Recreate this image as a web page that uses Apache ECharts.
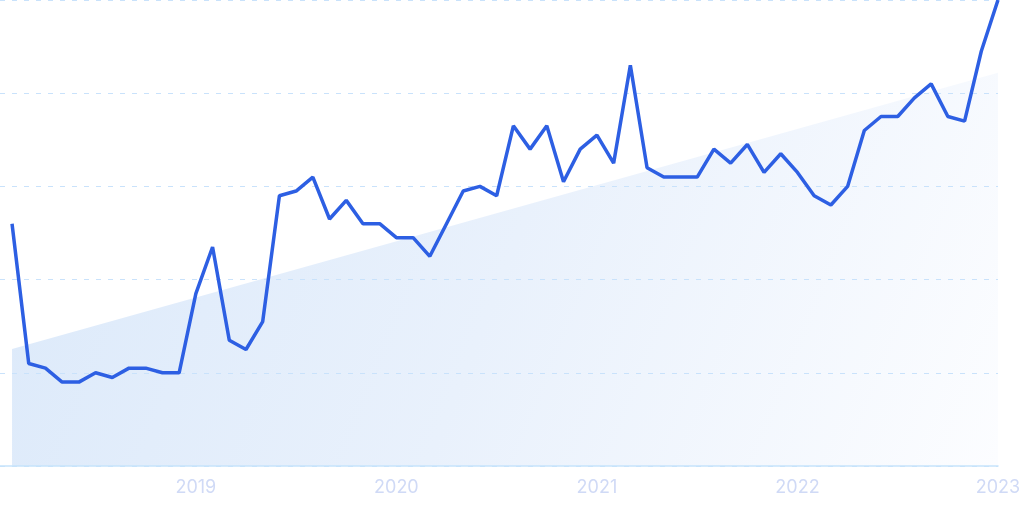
<!DOCTYPE html>
<html>
<head>
<meta charset="utf-8">
<script src="https://cdn.jsdelivr.net/npm/echarts@6/dist/echarts.min.js"></script>
<style>
html,body{margin:0;padding:0;background:#fff;}
#chart{width:1024px;height:511px;}
</style>
</head>
<body>
<div id="chart"></div>
<script>
var categories = [
  '2018-02','2018-03','2018-04','2018-05','2018-06','2018-07','2018-08','2018-09','2018-10','2018-11','2018-12',
  '2019-01','2019-02','2019-03','2019-04','2019-05','2019-06','2019-07','2019-08','2019-09','2019-10','2019-11','2019-12',
  '2020-01','2020-02','2020-03','2020-04','2020-05','2020-06','2020-07','2020-08','2020-09','2020-10','2020-11','2020-12',
  '2021-01','2021-02','2021-03','2021-04','2021-05','2021-06','2021-07','2021-08','2021-09','2021-10','2021-11','2021-12',
  '2022-01','2022-02','2022-03','2022-04','2022-05','2022-06','2022-07','2022-08','2022-09','2022-10','2022-11','2022-12',
  '2023-01'
];
var searchValues = [
  52,22,21,18,18,20,19,21,21,20,20,
  37,47,27,25,31,58,59,62,53,57,52,52,
  49,49,45,52,59,60,58,73,68,73,61,68,
  71,65,86,64,62,62,62,68,65,69,63,67,
  63,58,56,60,72,75,75,79,82,75,74,89,
  100
];
var trendStart = 25.1;
var trendEnd = 84.4;
var yTicks = [0, 20, 40, 60, 80, 100];

var lineData = searchValues.map(function (v, i) { return [i, v]; });
var trendData = [[0, trendStart], [categories.length - 1, trendEnd]];
var yearTickIdx = [];
categories.forEach(function (c, i) { if (c.slice(5) === '01') yearTickIdx.push(i); });

var chart = echarts.init(document.getElementById('chart'), null, {renderer: 'canvas'});
chart.setOption({
  animation: false,
  grid: {left: 0, right: 26, top: 0, bottom: 45, containLabel: false},
  xAxis: {
    type: 'value',
    z: 3,
    min: -0.72,
    max: categories.length - 1,
    axisLine: {show: true, lineStyle: {color: '#c6e3fb', width: 1.5}},
    axisTick: {show: false},
    splitLine: {show: false},
    axisLabel: {
      customValues: yearTickIdx,
      formatter: function (v) { return categories[Math.round(v)].slice(0, 4); },
      color: '#d0daf6',
      fontSize: 18,
      fontFamily: 'Inter',
      margin: 13
    }
  },
  yAxis: {
    type: 'value',
    z: 3,
    min: yTicks[0],
    max: yTicks[yTicks.length - 1],
    interval: 20,
    axisLine: {show: false},
    axisTick: {show: false},
    axisLabel: {show: false},
    splitLine: {show: true, lineStyle: {color: '#c9e2fb', type: [5, 7], width: 1}}
  },
  series: [
    {
      type: 'line',
      data: trendData,
      symbol: 'none',
      lineStyle: {width: 0, opacity: 0},
      areaStyle: {
        origin: 'start',
        opacity: 1,
        color: new echarts.graphic.LinearGradient(0, 0, 1, 1, [
          {offset: 0, color: '#dbe9fa'},
          {offset: 0.5, color: '#e9f1fc'},
          {offset: 1, color: '#fcfdff'}
        ])
      },
      silent: true,
      z: 1
    },
    {
      type: 'line',
      data: lineData,
      symbol: 'none',
      lineStyle: {color: '#2d5fe3', width: 3.5},
      z: 5
    }
  ]
});
</script>
</body>
</html>
